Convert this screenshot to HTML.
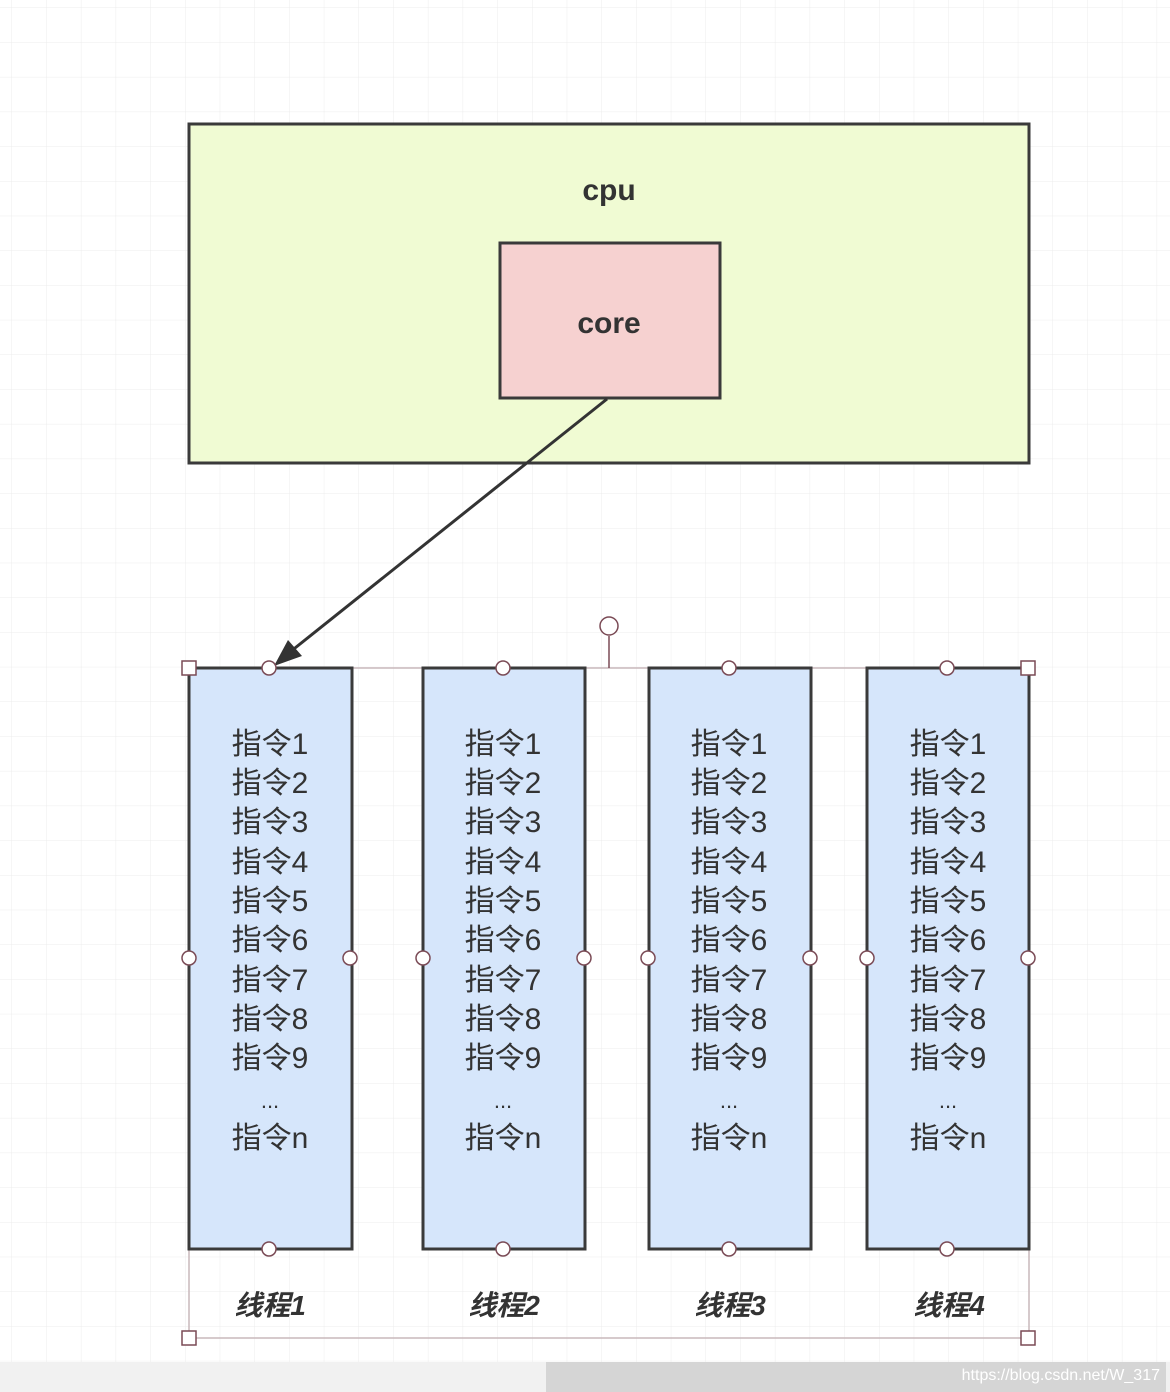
<!DOCTYPE html>
<html><head><meta charset="utf-8"><style>
body{margin:0;background:#fff}
svg{display:block}
</style></head><body>
<svg width="1170" height="1392" xmlns="http://www.w3.org/2000/svg" font-family="Liberation Sans, Noto Sans CJK SC, sans-serif">
<defs>
<pattern id="g" width="34.7" height="34.7" patternUnits="userSpaceOnUse" x="12" y="8">
<path d="M34.7 0V34.7M0 34.7H34.7" stroke="#ececec" stroke-width="1" fill="none"/>
</pattern>
</defs>
<rect width="1170" height="1392" fill="url(#g)"/>
<rect x="189" y="124" width="840" height="339" fill="#f0fbd3" stroke="#3a3a3a" stroke-width="3"/>
<text x="609" y="200" font-size="30" font-weight="bold" text-anchor="middle" fill="#333">cpu</text>
<rect x="500" y="243" width="220" height="155" fill="#f6d1d0" stroke="#3a3a3a" stroke-width="3"/>
<text x="609" y="333" font-size="30" font-weight="bold" text-anchor="middle" fill="#333">core</text>
<line x1="607" y1="399" x2="290" y2="652" stroke="#333" stroke-width="3"/>
<polygon points="274,666 288,640 302,656" fill="#333"/>
<!-- selection -->
<rect x="189" y="668" width="840" height="670" fill="none" stroke="#c9b8bb" stroke-width="1.5"/>
<line x1="609" y1="636" x2="609" y2="668" stroke="#7a4a55" stroke-width="1.5"/>
<circle cx="609" cy="626" r="9" fill="#fff" stroke="#7a4a55" stroke-width="1.5"/>
<g fill="#d6e6fb" stroke="#3a3a3a" stroke-width="3">
<rect x="189" y="668" width="163" height="581"/>
<rect x="423" y="668" width="162" height="581"/>
<rect x="649" y="668" width="162" height="581"/>
<rect x="867" y="668" width="162" height="581"/>
</g>
<g font-size="30" fill="#333" text-anchor="middle">
<g id="c1">
<text x="270" y="754">指令1</text><text x="270" y="793">指令2</text><text x="270" y="832">指令3</text><text x="270" y="872">指令4</text><text x="270" y="911">指令5</text><text x="270" y="950">指令6</text><text x="270" y="990">指令7</text><text x="270" y="1029">指令8</text><text x="270" y="1068">指令9</text><text x="270" y="1108" font-size="22">...</text><text x="270" y="1148">指令n</text>
</g>
<use href="#c1" x="233"/><use href="#c1" x="459"/><use href="#c1" x="678"/>
</g>
<g font-size="28" font-weight="bold" font-style="italic" fill="#333" text-anchor="middle">
<text x="270" y="1315">线程1</text><text x="504" y="1315">线程2</text><text x="730" y="1315">线程3</text><text x="949" y="1315">线程4</text>
</g>
<g fill="#fff" stroke="#7a4a55" stroke-width="1.5">
<circle cx="269" cy="668" r="7"/><circle cx="503" cy="668" r="7"/><circle cx="729" cy="668" r="7"/><circle cx="947" cy="668" r="7"/>
<circle cx="269" cy="1249" r="7"/><circle cx="503" cy="1249" r="7"/><circle cx="729" cy="1249" r="7"/><circle cx="947" cy="1249" r="7"/>
<circle cx="189" cy="958" r="7"/><circle cx="350" cy="958" r="7"/><circle cx="423" cy="958" r="7"/><circle cx="584" cy="958" r="7"/>
<circle cx="648" cy="958" r="7"/><circle cx="810" cy="958" r="7"/><circle cx="867" cy="958" r="7"/><circle cx="1028" cy="958" r="7"/>
<rect x="182" y="661" width="14" height="14"/><rect x="1021" y="661" width="14" height="14"/>
<rect x="182" y="1331" width="14" height="14"/><rect x="1021" y="1331" width="14" height="14"/>
</g>
<rect x="0" y="1362" width="1170" height="30" fill="#f1f1f1"/>
<rect x="546" y="1362" width="620" height="30" fill="#d5d5d5"/>
<text x="1160" y="1380" font-size="16" fill="#fff" text-anchor="end">https://blog.csdn.net/W_317</text>
</svg>
</body></html>
